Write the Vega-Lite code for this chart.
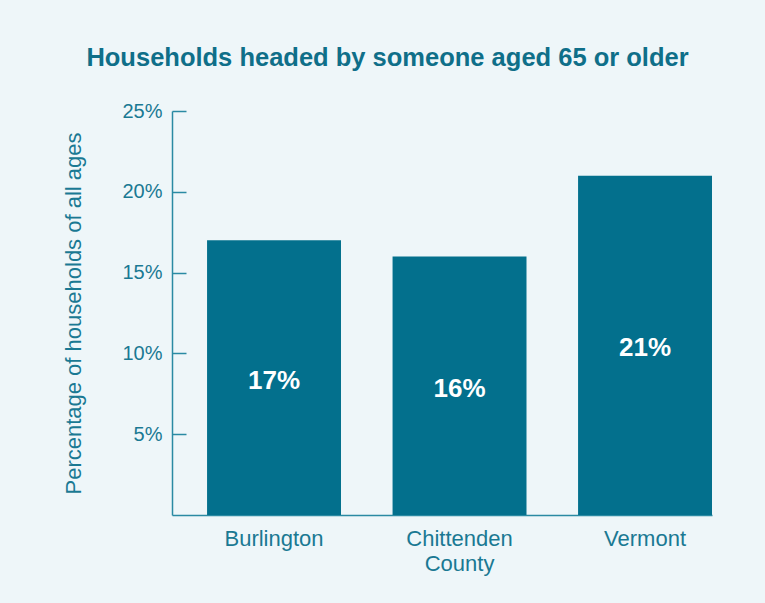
{
  "$schema": "https://vega.github.io/schema/vega-lite/v6.json",
  "width": 540,
  "height": 404,
  "autosize": {"type": "none"},
  "padding": {"left": 172, "top": 111, "right": 53, "bottom": 88},
  "background": "#eef6f9",
  "title": {
    "text": "Households headed by someone aged 65 or older",
    "font": "Liberation Sans",
    "fontSize": 25.5,
    "fontWeight": "bold",
    "color": "#0f6f89",
    "anchor": "middle",
    "frame": "bounds",
    "offset": 30
  },
  "data": {
    "values": [
      {"area": "Burlington", "share": 0.17},
      {"area": "Chittenden County", "share": 0.16},
      {"area": "Vermont", "share": 0.21}
    ]
  },
  "transform": [{"calculate": "datum.share / 2", "as": "mid"}],
  "encoding": {
    "x": {
      "field": "area",
      "type": "nominal",
      "sort": null,
      "scale": {"paddingInner": 0.278, "paddingOuter": 0.0945, "align": 1},
      "axis": {
        "title": null,
        "labelAngle": 0,
        "labelFont": "Liberation Sans",
        "labelFontSize": 22,
        "labelColor": "#1a7993",
        "labelPadding": 13,
        "labelLineHeight": 25,
        "labelExpr": "split(datum.label, ' ')",
        "ticks": false,
        "domainColor": "#2a8aa3",
        "domainWidth": 1.5
      }
    }
  },
  "layer": [
    {
      "mark": {"type": "bar", "color": "#03708d"},
      "encoding": {
        "y": {
          "field": "share",
          "type": "quantitative",
          "scale": {"domain": [0, 0.25], "nice": false},
          "axis": {
            "title": "Percentage of households of all ages",
            "titleFont": "Liberation Sans",
            "titleFontSize": 22,
            "titleFontWeight": "normal",
            "titleColor": "#1a7993",
            "titlePadding": 36,
            "values": [0.05, 0.1, 0.15, 0.2, 0.25],
            "format": ".0%",
            "labelFont": "Liberation Sans",
            "labelFontSize": 20,
            "labelColor": "#1a7993",
            "labelPadding": 24,
            "tickSize": -14,
            "tickColor": "#2a8aa3",
            "tickWidth": 1.5,
            "domainColor": "#2a8aa3",
            "domainWidth": 1.5,
            "grid": false
          }
        }
      }
    },
    {
      "mark": {"type": "text", "color": "white", "font": "Liberation Sans", "fontSize": 26, "fontWeight": "bold", "baseline": "middle", "dy": 3},
      "encoding": {
        "y": {"field": "mid", "type": "quantitative"},
        "text": {"field": "share", "type": "quantitative", "format": ".0%"}
      }
    }
  ],
  "config": {"view": {"stroke": null}}
}
